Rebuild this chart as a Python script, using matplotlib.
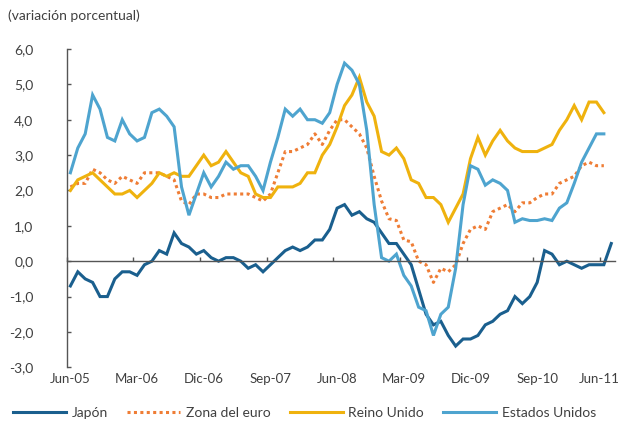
import numpy as np
import matplotlib
matplotlib.use("Agg")
import matplotlib.pyplot as plt
import matplotlib.transforms as mtransforms

plt.rcParams['font.family'] = ['Lato', 'DejaVu Sans']
plt.rcParams['font.size'] = 10
plt.rcParams['text.color'] = '#404040'

# monthly data, Jun-05 onwards (Japan has one extra month)
japon = [-0.7, -0.3, -0.5, -0.6, -1.0, -1.0, -0.5, -0.3, -0.3, -0.4,
         -0.1, 0.0, 0.3, 0.2, 0.8, 0.5, 0.4, 0.2, 0.3, 0.1,
         0.0, 0.1, 0.1, 0.0, -0.2, -0.1, -0.3, -0.1, 0.1, 0.3,
         0.4, 0.3, 0.4, 0.6, 0.6, 0.9, 1.5, 1.6, 1.3, 1.4,
         1.2, 1.1, 0.8, 0.5, 0.5, 0.2, -0.1, -0.8, -1.5, -1.8,
         -1.7, -2.1, -2.4, -2.2, -2.2, -2.1, -1.8, -1.7, -1.5, -1.4,
         -1.0, -1.2, -1.0, -0.6, 0.3, 0.2, -0.1, 0.0, -0.1, -0.2,
         -0.1, -0.1, -0.1, 0.5]
zona_euro = [2.1, 2.2, 2.2, 2.6, 2.5, 2.3, 2.2, 2.4, 2.3, 2.2,
             2.5, 2.5, 2.5, 2.4, 2.3, 1.7, 1.6, 1.9, 1.9, 1.8,
             1.8, 1.9, 1.9, 1.9, 1.9, 1.8, 1.7, 1.9, 2.5, 3.1,
             3.1, 3.2, 3.3, 3.6, 3.3, 3.7, 4.0, 4.0, 3.8, 3.6,
             3.2, 2.4, 1.7, 1.2, 1.15, 0.6, 0.55, 0.0, -0.1, -0.6,
             -0.2, -0.3, -0.1, 0.5, 0.9, 1.0, 0.9, 1.4, 1.5, 1.6,
             1.4, 1.65, 1.65, 1.8, 1.9, 1.9, 2.2, 2.3, 2.4, 2.7,
             2.8, 2.7, 2.7]
reino_unido = [2.0, 2.3, 2.4, 2.5, 2.3, 2.1, 1.9, 1.9, 2.0, 1.8,
               2.0, 2.2, 2.5, 2.4, 2.5, 2.4, 2.4, 2.7, 3.0, 2.7,
               2.8, 3.1, 2.8, 2.5, 2.4, 1.9, 1.8, 1.8, 2.1, 2.1,
               2.1, 2.2, 2.5, 2.5, 3.0, 3.3, 3.8, 4.4, 4.7, 5.2,
               4.5, 4.1, 3.1, 3.0, 3.2, 2.9, 2.3, 2.2, 1.8, 1.8,
               1.6, 1.1, 1.5, 1.9, 2.9, 3.5, 3.0, 3.4, 3.7, 3.4,
               3.2, 3.1, 3.1, 3.1, 3.2, 3.3, 3.7, 4.0, 4.4, 4.0,
               4.5, 4.5, 4.2]
estados_unidos = [2.5, 3.2, 3.6, 4.7, 4.3, 3.5, 3.4, 4.0, 3.6, 3.4,
                  3.5, 4.2, 4.3, 4.1, 3.8, 2.1, 1.3, 1.9, 2.5, 2.1,
                  2.4, 2.8, 2.6, 2.7, 2.7, 2.4, 2.0, 2.8, 3.5, 4.3,
                  4.1, 4.3, 4.0, 4.0, 3.9, 4.2, 5.0, 5.6, 5.4, 5.0,
                  3.7, 1.6, 0.1, 0.0, 0.2, -0.4, -0.7, -1.3, -1.4, -2.1,
                  -1.5, -1.3, -0.2, 1.6, 2.7, 2.6, 2.15, 2.3, 2.2, 2.0,
                  1.1, 1.2, 1.15, 1.15, 1.2, 1.15, 1.5, 1.65, 2.2, 2.8,
                  3.2, 3.6, 3.6]

tick_labels = ['Jun-05', 'Mar-06', 'Dic-06', 'Sep-07', 'Jun-08',
               'Mar-09', 'Dic-09', 'Sep-10', 'Jun-11']
label_step = 9

series = [
    (japon, 'Japón', '#1a5f8e', '-'),
    (zona_euro, 'Zona del euro', '#ef7d35', (0, (1, 1.1))),
    (reino_unido, 'Reino Unido', '#efb20e', '-'),
    (estados_unidos, 'Estados Unidos', '#4ea4cf', '-'),
]

fig = plt.figure(figsize=(6.22, 4.26), dpi=100)
ax = fig.add_axes([0.1072, 0.1378, 0.8815, 0.7472])

for vals, name, col, ls in series:
    ax.plot(np.arange(len(vals)), vals, color=col, lw=2.2, ls=ls,
            label=name, solid_joinstyle='miter')

ax.set_xlim(-0.5, 73.5)
ax.set_ylim(-3, 6)
ax.set_yticks(np.arange(-3, 7, 1))
ax.set_yticklabels([f'{v:.1f}'.replace('.', ',') for v in np.arange(-3, 7, 1)])

axis_col = '#555555'
for s in ['top', 'right']:
    ax.spines[s].set_visible(False)
ax.spines['left'].set_color(axis_col)
ax.spines['left'].set_linewidth(1.0)
ax.spines['bottom'].set_position(('data', 0))
ax.spines['bottom'].set_color(axis_col)
ax.spines['bottom'].set_linewidth(1.0)

ax.tick_params(axis='y', direction='in', length=3, width=1, color=axis_col,
               pad=24, labelsize=10, labelcolor='#404040')
ax.set_xticks(np.arange(-0.5, 72, label_step))
ax.tick_params(axis='x', direction='in', length=3, width=1, color=axis_col,
               labelbottom=False)

# month labels sit at the bottom of the plot, not on the zero line
sec = ax.secondary_xaxis(0.0)
sec.set_xticks(np.arange(0, 73, label_step))
sec.set_xticklabels(tick_labels)
sec.tick_params(length=0, pad=4, labelsize=9.5, labelcolor='#404040')
sec.spines['bottom'].set_visible(False)
# nudge the last label so it stays inside the figure
last = sec.get_xticklabels()[-1]
last.set_transform(last.get_transform() +
                   mtransforms.ScaledTranslation(-3 / 72, 0, fig.dpi_scale_trans))

fig.text(0.013, 0.962, '(variación porcentual)', fontsize=10,
         ha='left', va='center', color='#404040')

fig.legend(loc='center left', bbox_to_anchor=(0.008, 0.031), ncol=4,
           frameon=False, handlelength=3.8, handletextpad=0.4,
           columnspacing=1.4, fontsize=10, borderaxespad=0.2)

fig.savefig('out.png', dpi=100)
